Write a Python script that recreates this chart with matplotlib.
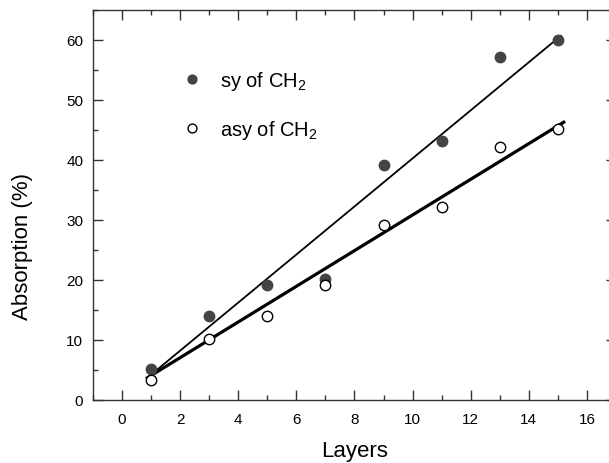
import numpy as np
import matplotlib
matplotlib.use('Agg')
from matplotlib import pyplot as plt
from matplotlib.ticker import MultipleLocator

# layers and absorption
layers = [1, 3, 5, 7, 9, 11, 13, 15]
sy_ch2 = [5.2, 14, 19.1, 20.2, 39.1, 43.2, 57.1, 60]
asy_ch2 = [3.4, 10.1, 14, 19.1, 29.1, 32.1, 42.1, 45.1]

# fitted lines (end points)
sy_fit_x = [0.87, 15.1]
sy_fit_y = [3.7, 60.7]
asy_fit_x = [0.87, 15.2]
asy_fit_y = [3.7, 46.3]

plt.rcParams['font.family'] = ['Liberation Sans', 'DejaVu Sans']
plt.rcParams['mathtext.fontset'] = 'custom'
plt.rcParams['mathtext.rm'] = 'Liberation Sans'

fig = plt.figure(figsize=(6.09, 4.64), dpi=100)
ax = fig.add_axes([93/609, 63/464, 523/609, 390/464])

ax.plot(sy_fit_x, sy_fit_y, color='black', lw=1.3, zorder=2)
ax.plot(asy_fit_x, asy_fit_y, color='black', lw=2.3, zorder=2)
ax.plot(layers, sy_ch2, 'o', color='#444444', ms=7.5, ls='none',
        label=r'sy of CH$_2$', zorder=3)
ax.plot(layers, asy_ch2, 'o', mfc='white', mec='black', mew=1.0, ms=7.5,
        ls='none', label=r'asy of CH$_2$', zorder=3)

ax.set_xlim(-1, 17)
ax.set_ylim(0, 65)
ax.xaxis.set_major_locator(MultipleLocator(2))
ax.xaxis.set_minor_locator(MultipleLocator(1))
ax.yaxis.set_major_locator(MultipleLocator(10))
ax.yaxis.set_minor_locator(MultipleLocator(5))
ax.tick_params(which='both', direction='in', top=True, right=True,
               width=1, color='#333333', labelsize=11)
ax.tick_params(which='major', length=7)
ax.tick_params(which='minor', length=3.5)
ax.tick_params(axis='x', pad=9)
ax.tick_params(axis='y', pad=7)
for s in ax.spines.values():
    s.set_color('#333333')
    s.set_linewidth(1)

ax.set_xlabel('Layers', fontsize=16, labelpad=10)
ax.set_ylabel('Absorption (%)', fontsize=16)
ax.yaxis.set_label_coords(-0.134, 0.397)
ax.yaxis.label.set_va('center')

ax.legend(loc='upper left', bbox_to_anchor=(0.135, 0.895), frameon=False,
          fontsize=14.5, labelspacing=1.3, handletextpad=0.9, handlelength=1.0,
          markerscale=0.85)

fig.savefig('out.png', dpi=100)
